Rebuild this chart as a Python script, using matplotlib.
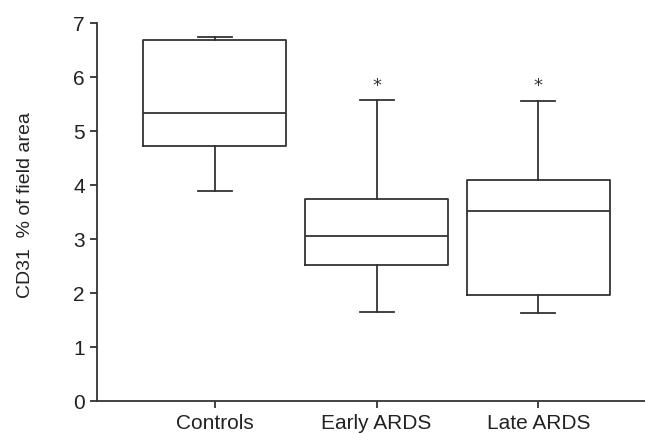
import matplotlib
matplotlib.use('Agg')
import matplotlib.pyplot as plt

# values
groups = ['Controls', 'Early ARDS', 'Late ARDS']
whislo = [3.89, 1.65, 1.63]
q1 = [4.72, 2.52, 1.97]
med = [5.33, 3.06, 3.52]
q3 = [6.69, 3.74, 4.10]
whishi = [6.74, 5.57, 5.56]
star = ['', '*', '*']

plt.rcParams['font.family'] = ['Liberation Sans Narrow', 'Liberation Sans', 'DejaVu Sans']

fig = plt.figure(figsize=(6.45, 4.35), dpi=100)
ax = fig.add_axes([0.150, 0.076, 0.85, 0.869])

stats = []
for i in range(len(groups)):
    stats.append({'label': groups[i], 'whislo': whislo[i], 'q1': q1[i], 'med': med[i],
                  'q3': q3[i], 'whishi': whishi[i], 'fliers': []})

lc = '#333333'
pos = [1, 2, 3]
ax.bxp(stats, positions=pos, widths=0.885, showfliers=False,
       boxprops=dict(color=lc, linewidth=1.3),
       medianprops=dict(color=lc, linewidth=1.3),
       whiskerprops=dict(color=lc, linewidth=1.3),
       capprops=dict(color=lc, linewidth=1.3),
       capwidths=0.21)

for p, s, hi in zip(pos, star, whishi):
    if s:
        ax.text(p, hi + 0.12, s, ha='center', va='bottom', fontsize=13, color=lc,
                family=['DejaVu Sans'])

ax.set_xlim(0.27, 3.66)
ax.set_ylim(0, 7)
ax.set_yticks(range(0, 8))
ax.set_xticks(pos)
ax.set_xticklabels(groups)
ax.spines['top'].set_visible(False)
ax.spines['right'].set_visible(False)
for sp in ['left', 'bottom']:
    ax.spines[sp].set_color(lc)
    ax.spines[sp].set_linewidth(1.3)
ax.tick_params(colors=lc, labelcolor='#222222', labelsize=15, width=1.3, length=5)
ax.set_ylabel('CD31  % of field area', fontsize=14, color='#222222')
ax.yaxis.set_label_coords(-0.115, 0.52)

fig.savefig('out.png', dpi=100)
